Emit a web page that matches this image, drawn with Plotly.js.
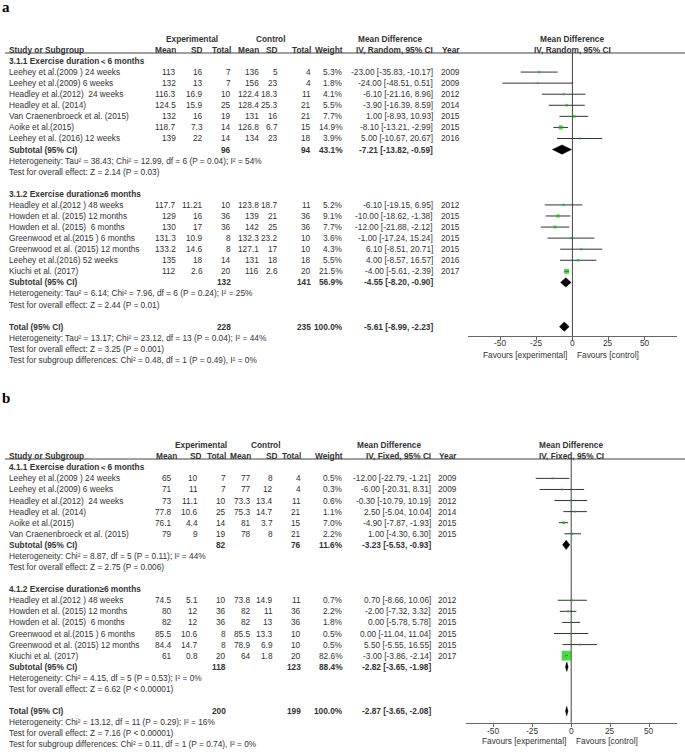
<!DOCTYPE html>
<html><head><meta charset="utf-8">
<script src="https://cdn.plot.ly/plotly-3.0.1.min.js"></script>
<style>html,body{margin:0;padding:0;background:#fff;}</style>
</head><body>
<div id="chart" style="width:685px;height:752px;"></div>
<script>
// ================= Panel a data =================
const aGroupTitles = ["3.1.1 Exercise duration＜6 months", "3.1.2 Exercise duration≥6 months"];
const aStudy = ["Leehey et al.(2009 ) 24 weeks", "Leehey et al.(2009) 6 weeks", "Headley et al.(2012)  24 weeks", "Headley et al. (2014)", "Van Craenenbroeck et al. (2015)", "Aoike et al.(2015)", "Leehey et al. (2016) 12 weeks",
  "Headley et al.(2012 ) 48 weeks", "Howden et al. (2015) 12 months", "Howden et al. (2015)  6 months", "Greenwood et al.(2015 ) 6 months", "Greenwood et al. (2015) 12 months", "Leehey et al.(2016) 52 weeks", "Kiuchi et al. (2017)"];
const aGroup = [0,0,0,0,0,0,0, 1,1,1,1,1,1,1];
const aExpMean = [113,132,116.3,124.5,132,118.7,139, 117.7,129,130,131.3,133.2,135,112];
const aExpSD = [16,13,16.9,15.9,16,7.3,22, 11.21,16,17,10.9,14.6,18,2.6];
const aExpN = [7,7,10,25,19,14,14, 10,36,36,8,8,14,20];
const aCtlMean = [136,156,122.4,128.4,131,126.8,134, 123.8,139,142,132.3,127.1,131,116];
const aCtlSD = [5,23,18.3,25.3,16,6.7,23, 18.7,21,25,23.2,17,18,2.6];
const aCtlN = [4,4,11,21,21,15,18, 11,36,36,10,10,18,20];
const aWeight = [5.3,1.8,4.1,5.5,7.7,14.9,3.9, 5.2,9.1,7.7,3.6,4.3,5.5,21.5];
const aMD = [-23,-24,-6.1,-3.9,1,-8.1,5, -6.1,-10,-12,-1,6.1,4,-4];
const aLo = [-35.83,-48.51,-21.16,-16.39,-8.93,-13.21,-10.67, -19.15,-18.62,-21.88,-17.24,-8.51,-8.57,-5.61];
const aHi = [-10.17,0.51,8.96,8.59,10.93,-2.99,20.67, 6.95,-1.38,-2.12,15.24,20.71,16.57,-2.39];
const aYear = [2009,2009,2012,2014,2015,2015,2016, 2012,2015,2015,2015,2015,2016,2017];
const aSubExpN = [96,132];
const aSubCtlN = [94,141];
const aSubWeight = [43.1,56.9];
const aSubMD = [-7.21,-4.55];
const aSubLo = [-13.82,-8.20];
const aSubHi = [-0.59,-0.90];
const aSubHet = ["Heterogeneity: Tau² = 38.43; Chi² = 12.99, df = 6 (P = 0.04); I² = 54%", "Heterogeneity: Tau² = 6.14; Chi² = 7.96, df = 6 (P = 0.24); I² = 25%"];
const aSubTest = ["Test for overall effect: Z = 2.14 (P = 0.03)", "Test for overall effect: Z = 2.44 (P = 0.01)"];
const aTotalN = [228,235];
const aTotalWeight = 100.0;
const aTotalCI = [-5.61,-8.99,-2.23];
const aTotalNotes = ["Heterogeneity: Tau² = 13.17; Chi² = 23.12, df = 13 (P = 0.04); I² = 44%", "Test for overall effect: Z = 3.25 (P = 0.001)", "Test for subgroup differences: Chi² = 0.48, df = 1 (P = 0.49), I² = 0%"];
const aMethod = "IV, Random, 95% CI";

// ================= Panel b data =================
const bGroupTitles = ["4.1.1 Exercise duration＜6 months", "4.1.2 Exercise duration≥6 months"];
const bStudy = ["Leehey et al.(2009 ) 24 weeks", "Leehey et al.(2009) 6 weeks", "Headley et al.(2012)  24 weeks", "Headley et al. (2014)", "Aoike et al.(2015)", "Van Craenenbroeck et al. (2015)",
  "Headley et al.(2012 ) 48 weeks", "Howden et al. (2015) 12 months", "Howden et al. (2015)  6 months", "Greenwood et al.(2015 ) 6 months", "Greenwood et al. (2015) 12 months", "Kiuchi et al. (2017)"];
const bGroup = [0,0,0,0,0,0, 1,1,1,1,1,1];
const bExpMean = [65,71,73,77.8,76.1,79, 74.5,80,82,85.5,84.4,61];
const bExpSD = [10,11,11.1,10.6,4.4,9, 5.1,12,12,10.6,14.7,0.8];
const bExpN = [7,7,10,25,14,19, 10,36,36,8,8,20];
const bCtlMean = [77,77,73.3,75.3,81,78, 73.8,82,82,85.5,78.9,64];
const bCtlSD = [8,12,13.4,14.7,3.7,8, 14.9,11,13,13.3,6.9,1.8];
const bCtlN = [4,4,11,21,15,21, 11,36,36,10,10,20];
const bWeight = [0.5,0.3,0.6,1.1,7.0,2.2, 0.7,2.2,1.8,0.5,0.5,82.6];
const bMD = [-12,-6,-0.3,2.5,-4.9,1, 0.7,-2,0,0,5.5,-3];
const bLo = [-22.79,-20.31,-10.79,-5.04,-7.87,-4.30, -8.66,-7.32,-5.78,-11.04,-5.55,-3.86];
const bHi = [-1.21,8.31,10.19,10.04,-1.93,6.30, 10.06,3.32,5.78,11.04,16.55,-2.14];
const bYear = [2009,2009,2012,2014,2015,2015, 2012,2015,2015,2015,2015,2017];
const bSubExpN = [82,118];
const bSubCtlN = [76,123];
const bSubWeight = [11.6,88.4];
const bSubMD = [-3.23,-2.82];
const bSubLo = [-5.53,-3.65];
const bSubHi = [-0.93,-1.98];
const bSubHet = ["Heterogeneity: Chi² = 8.87, df = 5 (P = 0.11); I² = 44%", "Heterogeneity: Chi² = 4.15, df = 5 (P = 0.53); I² = 0%"];
const bSubTest = ["Test for overall effect: Z = 2.75 (P = 0.006)", "Test for overall effect: Z = 6.62 (P < 0.00001)"];
const bTotalN = [200,199];
const bTotalWeight = 100.0;
const bTotalCI = [-2.87,-3.65,-2.08];
const bTotalNotes = ["Heterogeneity: Chi² = 13.12, df = 11 (P = 0.29); I² = 16%", "Test for overall effect: Z = 7.16 (P < 0.00001)", "Test for subgroup differences: Chi² = 0.11, df = 1 (P = 0.74), I² = 0%"];
const bMethod = "IV, Fixed, 95% CI";

const tickVals = [-50,-25,0,25,50];
const tickText = ["-50","-25","0","25","50"];
const colHeads = ["Mean","SD","Total","Mean","SD","Total","Weight"];

// ================= drawing =================
const W = 685, H = 752;
const FONT = "Liberation Sans, Arial, sans-serif";
const FS = 8.3, TXT = "#333";
const GREEN = "#00c400";

const panels = [
  { label:"a", labelY:7, xa:"x", ya:"y", xName:"xaxis", yName:"yaxis",
    row1:61, rowH:11.07, top:0, bot:376, xDom:[468,677], zeroPx:572.4, ppu:1.443, axisY:336, lineY:53, tickY:343.5,
    hcol:{em:177,esd:204,en:231.7,cm:260,csd:279.3,cn:312,w:344}, vcol:{em:177,esd:204,en:231.7,cm:260,csd:279.3,cn:311.5,w:344},
    nameX:8, ciX:434, yrX:460.7, expC:191.5, ctlC:271, mdC:390.3, plotC:572.3, favR:567.5, favL:575.5, favY:354.5,
    d:{titles:aGroupTitles, study:aStudy, group:aGroup, em:aExpMean, esd:aExpSD, en:aExpN, cm:aCtlMean, csd:aCtlSD, cn:aCtlN, w:aWeight, md:aMD, lo:aLo, hi:aHi, yr:aYear,
       sen:aSubExpN, scn:aSubCtlN, sw:aSubWeight, smd:aSubMD, slo:aSubLo, shi:aSubHi, shet:aSubHet, stest:aSubTest, tn:aTotalN, tw:aTotalWeight, tci:aTotalCI, tnotes:aTotalNotes, method:aMethod} },
  { label:"b", labelY:398, xa:"x2", ya:"y2", xName:"xaxis2", yName:"yaxis2",
    row1:467.3, rowH:11.08, top:376, bot:752, xDom:[466,677], zeroPx:571.2, ppu:1.557, axisY:722.7, lineY:459, tickY:730.8,
    hcol:{em:177.7,esd:203.3,en:226.7,cm:252.3,csd:279.3,cn:301.7,w:344}, vcol:{em:172.7,esd:199.3,en:226.7,cm:252.3,csd:274,cn:301.7,w:344},
    nameX:8, ciX:431.7, yrX:458.3, expC:200.8, ctlC:265.8, mdC:388.5, plotC:571, favR:566.7, favL:575, favY:741.3,
    d:{titles:bGroupTitles, study:bStudy, group:bGroup, em:bExpMean, esd:bExpSD, en:bExpN, cm:bCtlMean, csd:bCtlSD, cn:bCtlN, w:bWeight, md:bMD, lo:bLo, hi:bHi, yr:bYear,
       sen:bSubExpN, scn:bSubCtlN, sw:bSubWeight, smd:bSubMD, slo:bSubLo, shi:bSubHi, shet:bSubHet, stest:bSubTest, tn:bTotalN, tw:bTotalWeight, tci:bTotalCI, tnotes:bTotalNotes, method:bMethod} }
];

const traces = [], annotations = [], shapes = [];
const layout = {
  width: W, height: H, margin:{l:0,r:0,t:0,b:0}, paper_bgcolor:"#fff", plot_bgcolor:"rgba(0,0,0,0)",
  showlegend:false, font:{family:FONT, size:FS, color:TXT}
};

function fmtCI(m,l,h){ return m.toFixed(2)+" ["+l.toFixed(2)+", "+h.toFixed(2)+"]"; }
function pct(v){ return v.toFixed(1)+"%"; }

panels.forEach(p => {
  const d = p.d;
  const rowAt = px => (px - p.row1)/p.rowH + 1;
  const yref = p.ya;
  const T = (xpx, r, s, anchor, bold) => annotations.push({
    xref:"paper", x:xpx/W, yref:yref, y:r, text: bold ? "<b>"+s+"</b>" : s,
    xanchor:anchor, yanchor:"middle", showarrow:false, borderpad:0,
    font:{family:FONT, size:FS, color:TXT}
  });

  // axes
  const half = (p.xDom[1]-p.xDom[0])/2/p.ppu;
  const ctr = ((p.xDom[0]+p.xDom[1])/2 - p.zeroPx)/p.ppu;
  layout[p.xName] = {
    domain:[p.xDom[0]/W, p.xDom[1]/W], range:[ctr-half, ctr+half], anchor:"free", position:1-p.axisY/H,
    showline:true, linecolor:"#666", linewidth:1, showgrid:false, zeroline:false,
    ticks:"outside", ticklen:3, tickcolor:"#666", tickvals:tickVals, showticklabels:false, fixedrange:true
  };
  layout[p.yName] = {
    domain:[1-p.bot/H, 1-p.top/H], range:[rowAt(p.bot), rowAt(p.top)], anchor:"free", position:0,
    visible:false, fixedrange:true
  };
  // tick labels, placed on the axis's own scale
  tickVals.forEach((v, i) => annotations.push({xref:p.xa, x:v, yref:"paper", y:1-p.tickY/H, text:tickText[i],
    xanchor:"center", yanchor:"middle", showarrow:false, borderpad:0, font:{family:FONT,size:FS,color:TXT}}));

  // header
  shapes.push({type:"line", xref:"paper", yref:"paper", x0:5/W, x1:1, y0:1-p.lineY/H, y1:1-p.lineY/H, line:{color:"#444", width:1}});
  shapes.push({type:"line", xref:p.xa, yref:"paper", x0:0, x1:0, y0:1-p.axisY/H, y1:1-p.lineY/H, line:{color:"#444", width:1}, layer:"below"});
  T(p.expC, -1, "Experimental", "center", true);
  T(p.ctlC, -1, "Control", "center", true);
  T(p.mdC, -1, "Mean Difference", "center", true);
  T(p.plotC, -1, "Mean Difference", "center", true);
  T(p.nameX, 0, "Study or Subgroup", "left", true);
  const hk = ["em","esd","en","cm","csd","cn","w"];
  hk.forEach((k,i) => T(p.hcol[k], 0, colHeads[i], "right", true));
  T(p.ciX, 0, d.method, "right", true);
  T(p.yrX, 0, "Year", "right", true);
  T(p.plotC, 0, d.method, "center", true);

  // rows
  let r = 1;
  const studyRow = [], subRow = [];
  d.titles.forEach((title, g) => {
    T(p.nameX, r, title, "left", true); r++;
    d.study.forEach((s, i) => {
      if (d.group[i] !== g) return;
      studyRow[i] = r;
      T(p.nameX, r, s, "left", false);
      T(p.vcol.em, r, String(d.em[i]), "right"); T(p.vcol.esd, r, String(d.esd[i]), "right"); T(p.vcol.en, r, String(d.en[i]), "right");
      T(p.vcol.cm, r, String(d.cm[i]), "right"); T(p.vcol.csd, r, String(d.csd[i]), "right"); T(p.vcol.cn, r, String(d.cn[i]), "right");
      T(p.vcol.w, r, pct(d.w[i]), "right");
      T(p.ciX, r, fmtCI(d.md[i], d.lo[i], d.hi[i]), "right");
      T(p.yrX, r, String(d.yr[i]), "right");
      r++;
    });
    subRow[g] = r;
    T(p.nameX, r, "Subtotal (95% CI)", "left", true);
    T(p.vcol.en, r, String(d.sen[g]), "right", true);
    T(p.vcol.cn, r, String(d.scn[g]), "right", true);
    T(p.vcol.w, r, pct(d.sw[g]), "right", true);
    T(p.ciX, r, fmtCI(d.smd[g], d.slo[g], d.shi[g]), "right", true);
    r++;
    T(p.nameX, r, d.shet[g], "left"); r++;
    T(p.nameX, r, d.stest[g], "left"); r++;
    r++;
  });
  const totalRow = r;
  T(p.nameX, r, "Total (95% CI)", "left", true);
  T(p.vcol.en, r, String(d.tn[0]), "right", true);
  T(p.vcol.cn, r, String(d.tn[1]), "right", true);
  T(p.vcol.w, r, pct(d.tw), "right", true);
  T(p.ciX, r, fmtCI(d.tci[0], d.tci[1], d.tci[2]), "right", true);
  d.tnotes.forEach((s, k) => T(p.nameX, totalRow+1+k, s, "left"));

  // CI lines
  const lx = [], ly = [];
  d.md.forEach((m, i) => { lx.push(d.lo[i], d.hi[i], null); ly.push(studyRow[i], studyRow[i], null); });
  traces.push({type:"scatter", mode:"lines", x:lx, y:ly, xaxis:p.xa, yaxis:p.ya, line:{color:"#333", width:1}, hoverinfo:"skip", cliponaxis:false});
  // squares
  traces.push({type:"scatter", mode:"markers", x:d.md, y:studyRow, xaxis:p.xa, yaxis:p.ya,
    marker:{symbol:"square", color:GREEN, size:d.w.map(w => Math.max(2, 1.08*Math.sqrt(w))), line:{width:0}}, hoverinfo:"skip", cliponaxis:false});
  // diamonds
  const dx = [], dy = [], h = 0.42;
  const addDia = (m, l, hi, rr) => { dx.push(l, m, hi, m, l, null); dy.push(rr, rr-h, rr, rr+h, rr, null); };
  d.smd.forEach((m, g) => addDia(m, d.slo[g], d.shi[g], subRow[g]));
  addDia(d.tci[0], d.tci[1], d.tci[2], totalRow);
  traces.push({type:"scatter", mode:"lines", x:dx, y:dy, xaxis:p.xa, yaxis:p.ya, fill:"toself", fillcolor:"#000", line:{color:"#000", width:0.5}, hoverinfo:"skip", cliponaxis:false});

  // favours
  annotations.push({xref:"paper", yref:"paper", x:p.favR/W, y:1-p.favY/H, text:"Favours [experimental]", xanchor:"right", yanchor:"middle", showarrow:false, borderpad:0, font:{family:FONT,size:FS,color:TXT}});
  annotations.push({xref:"paper", yref:"paper", x:p.favL/W, y:1-p.favY/H, text:"Favours [control]", xanchor:"left", yanchor:"middle", showarrow:false, borderpad:0, font:{family:FONT,size:FS,color:TXT}});
  // panel label
  annotations.push({xref:"paper", yref:"paper", x:1/W, y:1-p.labelY/H, text:"<b>"+p.label+"</b>", xanchor:"left", yanchor:"middle", showarrow:false, borderpad:0, font:{family:"Liberation Serif, Times New Roman, serif", size:15, color:"#000"}});
});

layout.annotations = annotations;
layout.shapes = shapes;
Plotly.newPlot("chart", traces, layout, {displayModeBar:false, staticPlot:true});
</script>
</body></html>
